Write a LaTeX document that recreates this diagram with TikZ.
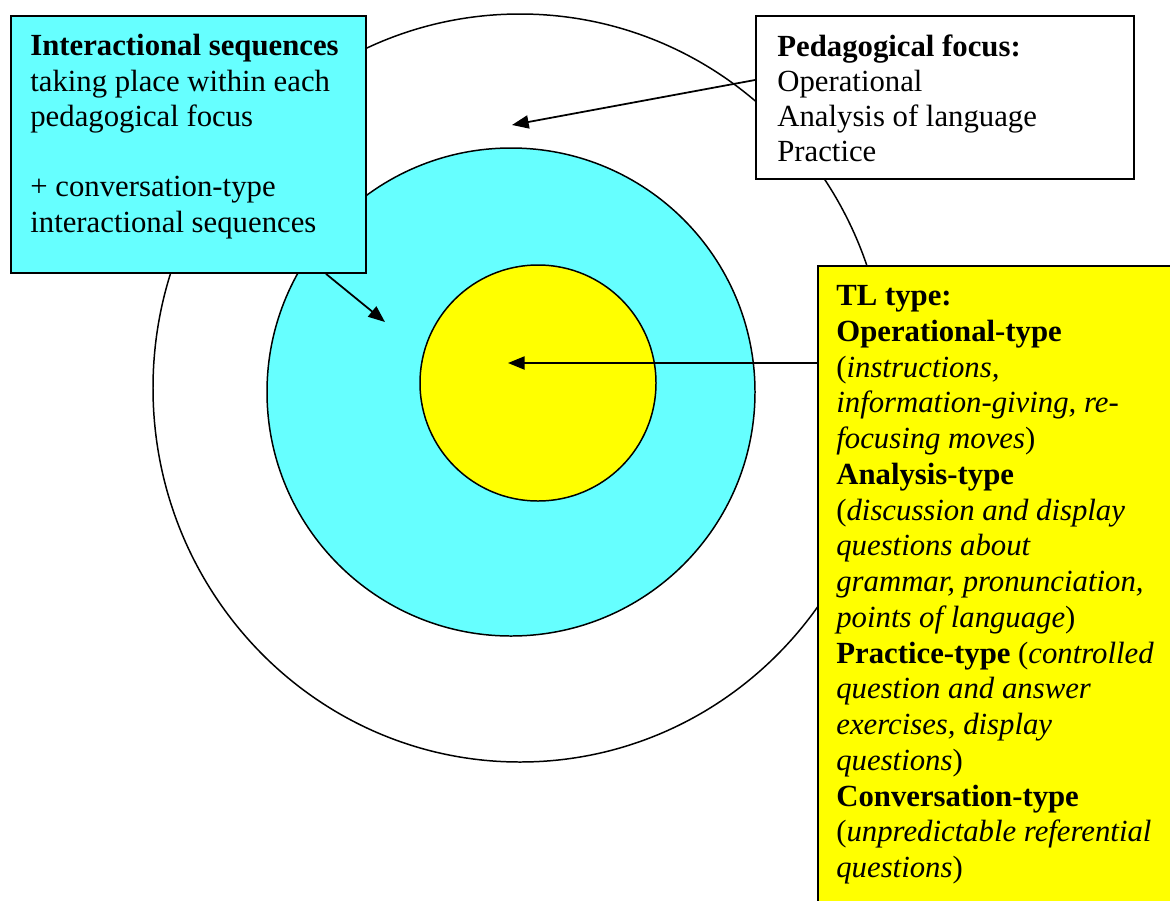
\documentclass[tikz,border=0pt]{standalone}
\usepackage{fontspec}
\setmainfont{Liberation Serif}
\usetikzlibrary{arrows.meta,calc}
\definecolor{RingClr}{rgb}{0.4,1,1}
\definecolor{CoreClr}{rgb}{1,1,0}
\tikzset{
  boxshape/.style={draw=black,line width=1.1pt,rectangle,inner sep=0pt,anchor=north west},
  boxtext/.style={anchor=north west,inner sep=0pt,align=left,font=\fontsize{17.5}{20.1}\selectfont},
  pointer/.style={line width=1pt,-{Triangle[length=9.5pt,width=7.5pt]}}
}

\begin{document}
\begin{tikzpicture}[x=0.02cm,y=-0.02cm]
\clip (0,0) rectangle (1170,900);

% rings
\draw[line width=0.85pt] (520,388) ellipse [x radius=367,y radius=374];
\draw[line width=0.85pt,fill=RingClr] (511,392) circle [radius=244];
\draw[line width=0.85pt,fill=CoreClr] (538,383) circle [radius=118];

% boxes
\node[boxshape,fill=RingClr,minimum width=7.1cm,minimum height=5.14cm] (seqbox) at (10,15) {};
\node[boxtext] (seqtext) at ($(seqbox.north west)+(20,19)$) {\textbf{Interactional sequences}\\taking place within each\\pedagogical focus\\[20.1pt]+ conversation-type\\interactional sequences};

\node[boxshape,fill=white,minimum width=7.56cm,minimum height=3.26cm] (focusbox) at (755,15) {};
\node[boxtext] (focustext) at ($(focusbox.north west)+(22,19)$) {\textbf{Pedagogical focus:}\\Operational\\Analysis of language\\Practice};

\node[boxshape,fill=CoreClr,minimum width=7.3cm,minimum height=12.9cm] (tlbox) at (817,265) {};
\node[boxtext,font=\fontsize{17.5}{20.35}\selectfont] (tltext) at ($(tlbox.north west)+(19,20)$) {\textbf{TL type:}\\
\textbf{Operational-type}\\
(\textit{instructions,}\\
\textit{information-giving, re-}\\
\textit{focusing moves})\\
\textbf{Analysis-type}\\
(\textit{discussion and display}\\
\textit{questions about}\\
\textit{grammar, pronunciation,}\\
\textit{points of language})\\
\textbf{Practice-type} (\textit{controlled}\\
\textit{question and answer}\\
\textit{exercises, display}\\
\textit{questions})\\
\textbf{Conversation-type}\\
(\textit{unpredictable referential}\\
\textit{questions})};

% arrows
\coordinate (focustip) at (512,125);
\coordinate (seqtip) at (385,322);
\coordinate (coretip) at (508,363);
\draw[pointer] ($(focusbox.north west)+(0,65)$) -- (focustip);
\draw[pointer] ($(seqbox.south west)+(316,0)$) -- (seqtip);
\draw[pointer] ($(tlbox.north west)+(0,98)$) -- (coretip);

\end{tikzpicture}
\end{document}
